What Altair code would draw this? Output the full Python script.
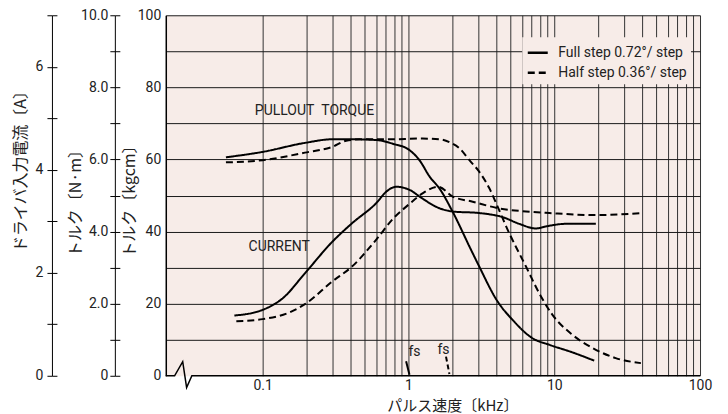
import altair as alt
import pandas as pd

# ---------------- data ----------------
FULL = "Full step 0.72°/ step"
HALF = "Half step 0.36°/ step"

# pulse rate (kHz) and pull-out torque (kgcm)
freq_full_torque = [0.056, 0.10, 0.195, 0.30, 0.41, 0.60, 0.79, 1.0, 1.19, 1.40, 1.63, 2.01, 2.69, 3.0, 4.09, 5.18, 7.10, 9.25, 13.3, 18.8]
torque_full = [60.6, 62.1, 64.6, 65.6, 65.6, 65.4, 64.3, 62.8, 59.8, 55.2, 52.0, 45.5, 34.9, 31.0, 20.6, 15.5, 10.4, 8.6, 6.5, 4.2]

freq_half_torque = [0.056, 0.10, 0.195, 0.30, 0.374, 0.487, 0.74, 1.25, 1.63, 1.91, 2.24, 2.62, 3.06, 3.59, 4.09, 4.92, 5.60, 6.40, 7.89, 9.73, 13.3, 18.3, 26.4, 39.3]
torque_half = [59.2, 59.8, 61.9, 63.5, 65.2, 65.6, 65.6, 65.8, 65.6, 64.8, 63.1, 59.8, 56.6, 52.0, 46.9, 39.5, 34.9, 30.3, 22.9, 16.9, 11.4, 7.7, 4.9, 3.5]

# pulse rate (kHz) and driver input current (A)
freq_full_current = [0.064, 0.10, 0.138, 0.195, 0.30, 0.41, 0.60, 0.715, 0.824, 1.0, 1.25, 1.55, 2.01, 3.06, 4.43, 5.75, 7.49, 8.77, 12.0, 19.3]
current_full = [1.17, 1.28, 1.51, 1.99, 2.60, 2.96, 3.35, 3.59, 3.67, 3.62, 3.44, 3.28, 3.19, 3.16, 3.08, 2.95, 2.86, 2.90, 2.95, 2.95]

freq_half_current = [0.066, 0.10, 0.153, 0.195, 0.30, 0.41, 0.60, 0.79, 1.0, 1.25, 1.60, 2.01, 2.76, 4.20, 6.40, 9.25, 19.3, 40.3]
current_half = [1.06, 1.10, 1.23, 1.39, 1.83, 2.12, 2.64, 3.06, 3.32, 3.54, 3.67, 3.48, 3.38, 3.25, 3.19, 3.16, 3.12, 3.16]

# fs (starting frequency) marks: kHz, kgcm
fs_full_f = [0.964, 1.016]
fs_full_v = [4.0, 0.3]
fs_half_f = [1.81, 1.91]
fs_half_v = [5.3, 0.5]

# axis break path along the bottom edge (kHz, kgcm)
x_min = 0.02166
x_max = 100
break_f = [x_min, 0.0249, 0.0283, 0.0301, 0.0327, x_max]
break_v = [0, 0, 3.9, -3.3, 0, 0]

# annotations
label_text = ["PULLOUT\u00a0\u00a0TORQUE", "CURRENT", "fs", "fs"]
label_f = [0.227, 0.130, 1.10, 1.74]
label_v = [73.4, 35.7, 6.6, 7.2]

# tick values
x_ticks = [0.1, 0.2, 0.3, 0.4, 0.5, 0.6, 0.7, 0.8, 0.9,
           1, 2, 3, 4, 5, 6, 7, 8, 9,
           10, 20, 30, 40, 50, 60, 70, 80, 90, 100]
kgcm_ticks = [0, 10, 20, 30, 40, 50, 60, 70, 80, 90, 100]
nm_ticks = [0, 1, 2, 3, 4, 5, 6, 7, 8, 9, 10]
amp_ticks = [0, 1, 2, 3, 4, 5, 6, 7]

# ---------------- tables ----------------
torque_df = pd.concat([
    pd.DataFrame({"f": freq_full_torque, "v": torque_full, "step": FULL}),
    pd.DataFrame({"f": freq_half_torque, "v": torque_half, "step": HALF}),
])
current_df = pd.concat([
    pd.DataFrame({"f": freq_full_current, "a": current_full, "step": FULL}),
    pd.DataFrame({"f": freq_half_current, "a": current_half, "step": HALF}),
])
fs_full_df = pd.DataFrame({"f": fs_full_f, "v": fs_full_v})
fs_half_df = pd.DataFrame({"f": fs_half_f, "v": fs_half_v})
break_df = pd.DataFrame({"f": break_f, "v": break_v})
label_df = pd.DataFrame({"f": label_f, "v": label_v, "t": label_text})
nm_df = pd.DataFrame({"nm": [0, 10]})

# ---------------- styling ----------------
BG = "#f7ece8"
LAT = "Roboto, sans-serif"
CJK = "Noto Sans CJK JP"
TXT = "#222222"
TFS = 16

x_axis = alt.Axis(
    values=x_ticks,
    labelExpr="datum.value == 0.1 ? '0.1' : datum.value == 1 ? '1' : datum.value == 10 ? '10' : datum.value == 100 ? '100' : ''",
    grid=True, gridColor="#333333", gridWidth=1,
    ticks=False, domain=False, labelPadding=3, labelFlush=False, labelOverlap=False,
    labelFont=LAT, labelFontSize=14, labelColor=TXT,
    title="パルス速度〔kHz〕", titleFont=CJK, titleFontSize=15, titleFontWeight="normal",
    titleColor=TXT, titleX=287, titleY=30, titleBaseline="middle",
)
x_scale = alt.Scale(type="log", domain=[x_min, x_max])

kg_axis = alt.Axis(
    orient="left", values=kgcm_ticks,
    labelExpr="datum.value % 20 == 0 ? datum.label : ''",
    grid=True, gridColor="#1a1a1a", gridWidth=1,
    gridOpacity={"condition": {"test": "datum.value === 0", "value": 0}, "value": 1},
    ticks=False, domain=True, domainColor="#000000", domainWidth=1.5,
    labelPadding=5, labelFlush=False, labelFont=LAT, labelFontSize=14, labelColor=TXT,
    title="トルク〔kgcm〕", titleFont=CJK, titleFontSize=TFS, titleFontWeight="normal",
    titleColor=TXT, titleX=-36, titleY=182, titleBaseline="middle",
)
kg_scale = alt.Scale(domain=[0, 100])

nm_axis = alt.Axis(
    orient="left", offset=51, values=nm_ticks,
    labelExpr="datum.value % 2 == 0 ? (datum.value == 0 ? '0' : format(datum.value, '.1f')) : ''",
    grid=False, tickSize=5, tickColor="#000000", domainColor="#000000",
    labelPadding=2, labelFlush=False, labelFont=LAT, labelFontSize=14, labelColor=TXT,
    title="トルク〔N·m〕", titleFont=CJK, titleFontSize=TFS, titleFontWeight="normal",
    titleColor=TXT, titleX=-39, titleY=184, titleBaseline="middle",
)
nm_tick_axis = alt.Axis(
    orient="left", offset=46, values=nm_ticks, grid=False, domain=False,
    labels=False, tickSize=5, tickColor="#000000", title=None,
)
amp_axis = alt.Axis(
    orient="left", offset=114, values=amp_ticks,
    labelExpr="datum.value % 2 == 0 ? datum.label : ''",
    grid=False, tickSize=5, tickColor="#000000", domainColor="#000000",
    labelPadding=4, labelFlush=False, labelFont=LAT, labelFontSize=14, labelColor=TXT,
    title="ドライバ入力電流〔A〕", titleFont=CJK, titleFontSize=TFS, titleFontWeight="normal",
    titleColor=TXT, titleX=-31, titleY=152, titleBaseline="middle",
)
amp_tick_axis = alt.Axis(
    orient="left", offset=109, values=amp_ticks, grid=False, domain=False,
    labels=False, tickSize=5, tickColor="#000000", title=None,
)

legend = alt.Legend(
    title=None, orient="none", legendX=357, legendY=22,
    fillColor=BG, padding=4, rowPadding=1,
    symbolType="stroke", symbolSize=400, symbolStrokeWidth=2.5,
    symbolStrokeColor="#000000", labelOffset=9,
    labelFont=LAT, labelFontSize=14, labelColor=TXT,
)
dash = alt.StrokeDash(
    "step:N",
    scale=alt.Scale(domain=[FULL, HALF], range=[[1, 0], [7, 4]]),
    legend=legend,
)


def X():
    return alt.X("f:Q", scale=x_scale, axis=x_axis)


def YK():
    return alt.Y("v:Q", scale=kg_scale, axis=kg_axis)


torque = alt.Chart(torque_df).mark_line(
    color="#000000", strokeWidth=2, interpolate="monotone"
).encode(x=X(), y=YK(), strokeDash=dash)

fs_full = alt.Chart(fs_full_df).mark_line(color="#000000", strokeWidth=2).encode(x=X(), y=YK())
fs_half = alt.Chart(fs_half_df).mark_line(
    color="#000000", strokeWidth=2, strokeDash=[5, 3]
).encode(x=X(), y=YK())
brk = alt.Chart(break_df).mark_line(color="#000000", strokeWidth=1.5).encode(x=X(), y=YK())
labels = alt.Chart(label_df).mark_text(
    font=LAT, fontSize=14, color=TXT, align="center", baseline="middle"
).encode(x=X(), y=YK(), text="t:N")

kg_group = alt.layer(torque, fs_full, fs_half, brk, labels)

current = alt.Chart(current_df).mark_line(
    color="#000000", strokeWidth=2, interpolate="monotone"
).encode(
    x=X(),
    y=alt.Y("a:Q", scale=alt.Scale(domain=[0, 7]), axis=amp_axis),
    strokeDash=dash,
)
amp_ticks_layer = alt.Chart(current_df).mark_point(opacity=0).encode(
    y=alt.Y("a:Q", scale=alt.Scale(domain=[0, 7]), axis=amp_tick_axis)
)
nm_layer = alt.Chart(nm_df).mark_point(opacity=0).encode(
    y=alt.Y("nm:Q", scale=alt.Scale(domain=[0, 10]), axis=nm_axis)
)
nm_ticks_layer = alt.Chart(nm_df).mark_point(opacity=0).encode(
    y=alt.Y("nm:Q", scale=alt.Scale(domain=[0, 10]), axis=nm_tick_axis)
)

chart = alt.layer(
    kg_group, current, amp_ticks_layer, nm_layer, nm_ticks_layer
).resolve_scale(y="independent").properties(
    width=535, height=361,
    autosize=alt.AutoSizeParams(type="none"),
    padding={"left": 158, "top": 7, "right": 20, "bottom": 38},
    background="#ffffff",
).configure_view(fill=BG, stroke="transparent")

chart.save("out.html", embed_options={"renderer": "svg", "actions": False})
